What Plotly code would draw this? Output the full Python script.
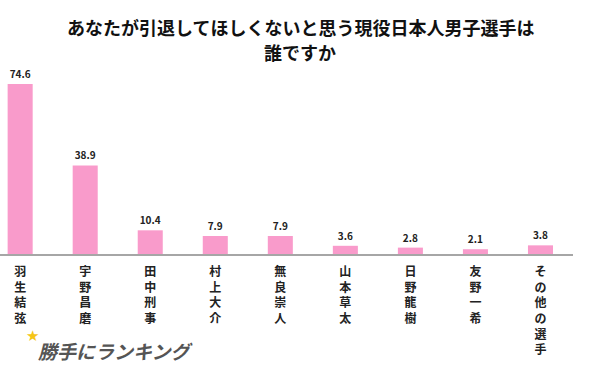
import plotly.graph_objects as go

players = ["羽生結弦", "宇野昌磨", "田中刑事", "村上大介", "無良崇人", "山本草太", "日野龍樹", "友野一希", "その他の選手"]
values = [74.6, 38.9, 10.4, 7.9, 7.9, 3.6, 2.8, 2.1, 3.8]
tick_labels = ["<br>".join(list(p)) for p in players]
title_lines = ["あなたが引退してほしくないと思う現役日本人男子選手は", "誰ですか"]

fig = go.Figure()
fig.add_trace(go.Bar(
    x=list(range(len(players))),
    y=values,
    width=0.385,
    marker=dict(color="#F99BCB", line=dict(width=0)),
    text=[f"{v:.1f}" for v in values],
    textposition="outside",
    cliponaxis=False,
    textfont=dict(family="Noto Sans CJK JP", size=10, color="#222222", weight="bold"),
))

fig.update_layout(
    width=600, height=380,
    margin=dict(l=0, r=27, t=72, b=126, autoexpand=False),
    paper_bgcolor="white", plot_bgcolor="white",
    showlegend=False,
    xaxis=dict(
        range=[-0.31, 8.5],
        tickmode="array",
        tickvals=list(range(len(players))),
        ticktext=tick_labels,
        showline=True, linecolor="#A6A6A6", linewidth=1.5,
        ticks="", showgrid=False, zeroline=False, automargin=False,
        tickfont=dict(family="Noto Sans CJK JP", size=12, color="#222222", weight="bold"),
        ticklabelstandoff=6,
    ),
    yaxis=dict(range=[0, 79.9], visible=False, showgrid=False, automargin=False),
)

for i, line in enumerate(title_lines):
    fig.add_annotation(
        text=line, xref="paper", yref="paper", x=0.5 * 600 / 573, y=1,
        xanchor="center", yanchor="middle", yshift=45 - 25 * i,
        showarrow=False,
        font=dict(family="Noto Sans CJK JP", size=18, color="#111111", weight="bold"),
    )

fig.add_annotation(
    text="<i>勝手にランキング</i>", xref="paper", yref="paper",
    x=0.0, y=0, xanchor="left", yanchor="middle", xshift=36, yshift=-96,
    showarrow=False,
    font=dict(family="Noto Sans CJK JP", size=19, color="#555555", weight="bold"),
)
fig.add_annotation(
    text="★", xref="paper", yref="paper",
    x=0.0, y=0, xanchor="left", yanchor="middle", xshift=24, yshift=-82,
    showarrow=False,
    font=dict(family="DejaVu Sans", size=15, color="#F5C518"),
)

fig.write_html("out.html", config={"displayModeBar": False},
               post_script="document.body.style.margin='0';")
